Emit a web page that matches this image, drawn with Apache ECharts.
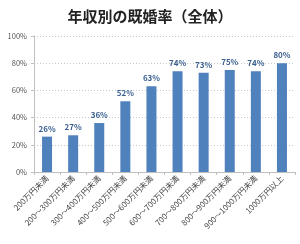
<!DOCTYPE html>
<html><head><meta charset="utf-8">
<script src="https://cdn.jsdelivr.net/npm/echarts@6/dist/echarts.min.js"></script>
<style>html,body{margin:0;padding:0;background:#fff}#c{width:300px;height:244px}</style>
</head><body><div id="c"></div>
<script>
const titleText = '年収別の既婚率（全体）';
const categories = ['200万円未満','200～300万円未満','300～400万円未満','400～500万円未満','500～600万円未満','600～700万円未満','700～800万円未満','800～900万円未満','900～1000万円未満','1000万円以上'];
const marriedRate = [26, 27, 36, 52, 63, 74, 73, 75, 74, 80];
const yTicks = [0, 20, 40, 60, 80, 100];

const font = '"Noto Sans CJK JP", sans-serif';
const chart = echarts.init(document.getElementById('c'));
chart.setOption({
  animation: false,
  title: { text: titleText, left: 'center', top: 4,
    textStyle: { fontFamily: font, fontSize: 15, fontWeight: 'bold', color: '#222' } },
  grid: { left: 34, right: 5, top: 36, bottom: 72 },
  xAxis: {
    type: 'category', data: categories,
    axisLine: { lineStyle: { color: '#bfbfbf' } },
    axisTick: { show: true, length: 3, lineStyle: { color: '#bfbfbf' } },
    axisLabel: { rotate: 45, interval: 0, fontSize: 8, fontFamily: font, color: '#444', margin: 5 }
  },
  yAxis: {
    type: 'value', min: yTicks[0], max: yTicks[yTicks.length - 1], interval: 20,
    axisLine: { show: true, lineStyle: { color: '#bfbfbf' } },
    axisTick: { show: true, length: 3, lineStyle: { color: '#bfbfbf' } },
    axisLabel: { formatter: '{value}%', fontSize: 7.5, fontFamily: font, color: '#555', margin: 7 },
    splitLine: { lineStyle: { color: '#c8c8c8', type: [1, 2] } }
  },
  series: [{
    type: 'bar', data: marriedRate, barWidth: 10,
    itemStyle: { color: '#4F81BD' },
    label: { show: true, position: 'top', distance: 4, formatter: '{c}%',
      fontSize: 8, fontWeight: 'bold', fontFamily: font, color: '#3A5F8F' }
  }]
});
</script></body></html>
